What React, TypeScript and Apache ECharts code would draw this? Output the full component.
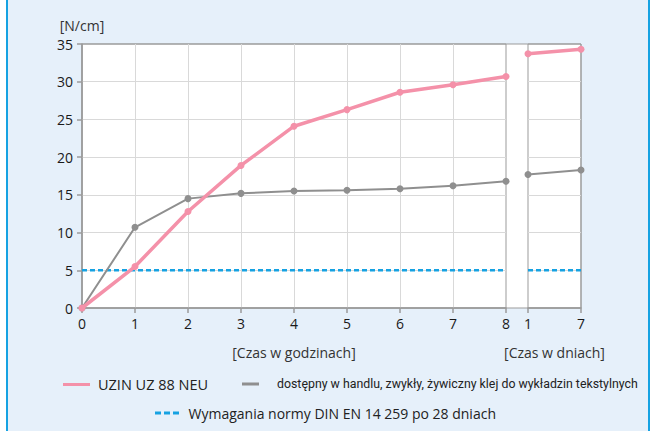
import React, { useEffect, useRef } from "react";
import * as echarts from "echarts";

const hourTicks = [0, 1, 2, 3, 4, 5, 6, 7, 8];
const dayTicks = [1, 7];
const uzinHours = [0, 5.5, 12.8, 18.9, 24.1, 26.3, 28.6, 29.6, 30.7];
const uzinDays = [33.7, 34.3];
const otherHours = [0, 10.7, 14.5, 15.2, 15.5, 15.6, 15.8, 16.2, 16.8];
const otherDays = [17.7, 18.3];
const normValue = 5;
const yTicks = [0, 5, 10, 15, 20, 25, 30, 35];

const nameUzin = "UZIN UZ 88 NEU";
const nameOther = "dostępny w handlu, zwykły, żywiczny klej do wykładzin tekstylnych";
const nameNorm = "Wymagania normy DIN EN 14 259 po 28 dniach";
const nameY = "[N/cm]";
const nameHours = "[Czas w godzinach]";
const nameDays = "[Czas w dniach]";

const FONT = "'Open Sans', sans-serif";
const NARROW = "Roboto, sans-serif";
const PINK = "#f491a9";
const GRAY = "#8f8f8f";
const BLUE = "#16a2e2";
const AXIS = "#9b9b9b";
const SPLIT = "#d9d9d9";

export default function App() {
  const ref = useRef<HTMLDivElement>(null);
  useEffect(() => {
    if (!ref.current) return;
    const chart = echarts.init(ref.current, undefined, { renderer: "svg" });
    const pair = (xs: number[], ys: number[]) => xs.map((x, i) => [x, ys[i]]);
    const lineSeries = (name: string, data: number[][], idx: number, color: string, width: number) => ({
      type: "line",
      name,
      data,
      xAxisIndex: idx,
      yAxisIndex: idx,
      color,
      symbol: "circle",
      symbolSize: 7,
      clip: false,
      lineStyle: { width, color },
      itemStyle: { color },
      z: name === nameUzin ? 4 : 3,
    });
    const normSeries = (data: number[][], idx: number) => ({
      type: "line",
      name: nameNorm,
      data,
      xAxisIndex: idx,
      yAxisIndex: idx,
      color: BLUE,
      symbol: "none",
      lineStyle: { width: 2.5, color: BLUE, type: [5, 3] },
      z: 2,
    });
    const yMin = yTicks[0];
    const yMax = yTicks[yTicks.length - 1];
    const yInt = yTicks[1] - yTicks[0];
    const nameStyle = { color: "#333", fontSize: 14, fontFamily: FONT };
    chart.setOption({
      animation: false,
      backgroundColor: "transparent",
      textStyle: { fontFamily: FONT },
      grid: [
        { left: 82, top: 44, width: 424, height: 264, show: true, backgroundColor: "transparent", borderColor: AXIS, borderWidth: 1 },
        { left: 528, top: 44, width: 53, height: 264, show: true, backgroundColor: "transparent", borderColor: AXIS, borderWidth: 1 },
        { left: 82, top: 44, width: 499, height: 264, show: true, backgroundColor: "#ffffff", borderColor: AXIS, borderWidth: 1, z: -1 },
      ],
      xAxis: [
        {
          type: "value",
          gridIndex: 0,
          min: hourTicks[0],
          max: hourTicks[hourTicks.length - 1],
          interval: 1,
          name: nameHours,
          nameLocation: "middle",
          nameGap: 37,
          nameTextStyle: nameStyle,
          axisLine: { lineStyle: { color: AXIS, width: 1.5 } },
          axisTick: { show: true, length: 5, lineStyle: { color: AXIS, width: 1.5 } },
          axisLabel: { color: "#1a1a1a", fontSize: 14, margin: 8, fontFamily: FONT },
          splitLine: { show: true, showMinLine: false, showMaxLine: false, lineStyle: { color: SPLIT, width: 1 } },
        },
        {
          type: "value",
          gridIndex: 1,
          min: dayTicks[0],
          max: dayTicks[1],
          interval: dayTicks[1] - dayTicks[0],
          name: nameDays,
          nameLocation: "middle",
          nameGap: 37,
          nameTextStyle: nameStyle,
          axisLine: { lineStyle: { color: AXIS, width: 1.5 } },
          axisTick: { show: true, length: 5, lineStyle: { color: AXIS, width: 1.5 } },
          axisLabel: { color: "#1a1a1a", fontSize: 14, margin: 8, fontFamily: FONT },
          splitLine: { show: false },
        },
        { type: "value", gridIndex: 2, show: false, min: 0, max: 1 },
      ],
      yAxis: [
        {
          type: "value",
          gridIndex: 0,
          min: yMin,
          max: yMax,
          interval: yInt,
          name: nameY,
          nameLocation: "end",
          nameGap: 12,
          nameTextStyle: { ...nameStyle, align: "center" },
          axisLine: { show: true, lineStyle: { color: AXIS, width: 1.5 } },
          axisTick: { show: true, length: 5, lineStyle: { color: AXIS, width: 1.5 } },
          axisLabel: { color: "#1a1a1a", fontSize: 14, margin: 9, fontFamily: FONT },
          splitLine: { show: true, showMinLine: false, showMaxLine: false, lineStyle: { color: SPLIT, width: 1 } },
        },
        {
          type: "value",
          gridIndex: 1,
          min: yMin,
          max: yMax,
          interval: yInt,
          axisLine: { show: false },
          axisTick: { show: false },
          axisLabel: { show: false },
          splitLine: { show: true, showMinLine: false, showMaxLine: false, lineStyle: { color: SPLIT, width: 1 } },
        },
        { type: "value", gridIndex: 2, show: false, min: 0, max: 1 },
      ],
      legend: [
        {
          left: 63,
          top: 377,
          padding: 0,
          icon: "rect",
          itemWidth: 27,
          itemHeight: 3,
          data: [nameUzin],
          selectedMode: false,
          textStyle: { color: "#222", fontSize: 14.5, fontFamily: FONT, padding: [0, 0, 0, 3] },
        },
        {
          left: 242,
          top: 378,
          padding: 0,
          icon: "rect",
          itemWidth: 17,
          itemHeight: 3,
          data: [nameOther],
          selectedMode: false,
          textStyle: { color: "#222", fontSize: 12.35, fontFamily: NARROW, padding: [0, 0, 0, 13] },
        },
        {
          left: 155,
          top: 406,
          padding: 0,
          icon: "path://M0,0h6v3h-6z M9,0h6v3h-6z M18,0h6v3h-6z",
          itemWidth: 27,
          itemHeight: 3,
          data: [nameNorm],
          selectedMode: false,
          textStyle: { color: "#222", fontSize: 14, fontFamily: FONT, padding: [0, 0, 0, 3] },
        },
      ],
      series: [
        normSeries(pair([hourTicks[0], hourTicks[hourTicks.length - 1]], [normValue, normValue]), 0),
        normSeries(pair(dayTicks, [normValue, normValue]), 1),
        lineSeries(nameOther, pair(hourTicks, otherHours), 0, GRAY, 2),
        lineSeries(nameOther, pair(dayTicks, otherDays), 1, GRAY, 2),
        lineSeries(nameUzin, pair(hourTicks, uzinHours), 0, PINK, 3.5),
        lineSeries(nameUzin, pair(dayTicks, uzinDays), 1, PINK, 3.5),
      ],
    });
    return () => chart.dispose();
  }, []);
  return (
    <div style={{ position: "fixed", left: 0, top: 0, width: 657, height: 431, background: "#ffffff" }}>
      <div
        style={{
          position: "absolute",
          left: 6,
          top: 0,
          width: 644,
          height: 431,
          boxSizing: "border-box",
          background: "#e6f0fa",
          borderLeft: `2px solid ${BLUE}`,
          borderRight: `2px solid ${BLUE}`,
        }}
      />
      <div ref={ref} style={{ position: "absolute", left: 0, top: 0, width: 657, height: 431 }} />
    </div>
  );
}
